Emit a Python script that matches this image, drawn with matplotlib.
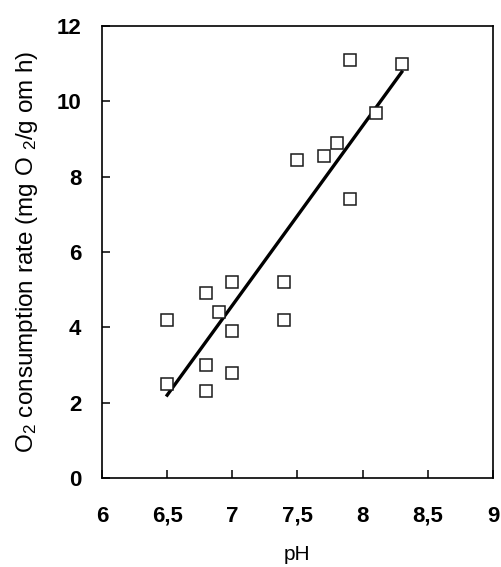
import matplotlib
matplotlib.use('Agg')
import matplotlib.pyplot as plt
import numpy as np

plt.rcParams['font.family'] = ['Liberation Sans', 'DejaVu Sans']
plt.rcParams['mathtext.fontset'] = 'custom'
plt.rcParams['mathtext.rm'] = 'Liberation Sans'
plt.rcParams['mathtext.it'] = 'Liberation Sans:italic'

# measured points
ph = [6.5, 6.5, 6.8, 6.8, 6.8, 6.9, 7.0, 7.0, 7.0,
      7.4, 7.4, 7.5, 7.7, 7.8, 7.9, 7.9, 8.1, 8.3]
rate = [4.2, 2.5, 4.9, 3.0, 2.3, 4.4, 5.2, 3.9, 2.8,
        5.2, 4.2, 8.45, 8.55, 8.9, 11.1, 7.4, 9.7, 11.0]

# regression line as drawn
fit_ph = [6.5, 8.3]
fit_rate = [2.2, 10.78]

xticks = [6, 6.5, 7, 7.5, 8, 8.5, 9]
xticklabels = ['6', '6,5', '7', '7,5', '8', '8,5', '9']
yticks = [0, 2, 4, 6, 8, 10, 12]

fig = plt.figure(figsize=(5.01, 5.67), dpi=100)
ax = fig.add_axes([0.2036, 0.157, 0.7804, 0.797])

ax.plot(ph, rate, 's', mfc='white', mec='#1a1a1a', mew=1.1, ms=9, ls='none', zorder=3)
ax.plot(fit_ph, fit_rate, '-', color='black', lw=2.4, zorder=2)

ax.set_xlim(6, 9)
ax.set_ylim(0, 12)
ax.set_xticks(xticks)
ax.set_xticklabels(xticklabels)
ax.set_yticks(yticks)
ax.tick_params(direction='in', length=6, width=1.1, labelsize=16)
ax.tick_params(axis='y', pad=15)
ax.tick_params(axis='x', pad=20)
for lab in ax.get_xticklabels() + ax.get_yticklabels():
    lab.set_fontweight('bold')

for s in ax.spines.values():
    s.set_linewidth(1.2)

ax.set_ylabel(r'O$_2$ consumption rate (mg O $_2$/g om h)', fontsize=17.5)
ax.yaxis.set_label_coords(-0.158, 0.5)
ax.set_xlabel('pH', fontsize=15)
ax.xaxis.set_label_coords(0.499, -0.148)

fig.savefig('out.png', dpi=100)
